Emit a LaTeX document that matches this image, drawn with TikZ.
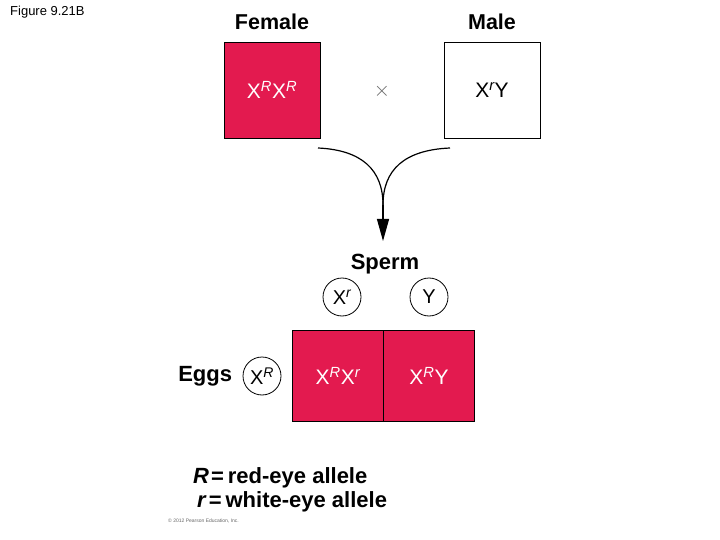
\documentclass[tikz,border=0pt]{standalone}
\usepackage{fontspec}
\setmainfont{Liberation Sans}
\usetikzlibrary{arrows.meta, positioning}
\definecolor{eyered}{HTML}{E31A4F}
\newcommand{\al}[1]{\textsuperscript{\itshape #1}}
\tikzset{
  genebox/.style={
    rectangle, draw=black, line width=0.8pt, fill=#1,
    minimum width=96pt, minimum height=96pt, inner sep=0pt,
    font=\fontsize{21}{21}\selectfont
  },
  allele/.style={
    circle, draw=black, line width=0.8pt, minimum size=38pt,
    inner sep=0pt, font=\fontsize{20}{20}\selectfont
  },
  head/.style={font=\fontsize{21.5}{21.5}\selectfont\bfseries},
  legend/.style={anchor=west, inner sep=0pt,
    font=\fontsize{22}{22}\selectfont\bfseries},
  arrow/.style={line width=1.2pt, #1}
}
\begin{document}
\begin{tikzpicture}[x=1pt, y=-1pt]
  \useasboundingbox (0,0) rectangle (720,540);
  \node[anchor=west, inner sep=0pt, font=\fontsize{13}{13}\selectfont]
    (fig) at (10,12) {Figure 9.21B};
  % parents
  \node[genebox=eyered, text=white] (female) at (272,90) {X\al{R}X\al{R}};
  \node[genebox=white] (male) at (492,90) {X\al{r}Y};
  \node[head] (femlbl) at (272,22) {Female};
  \node[head] (malelbl) at (492,22) {Male};
  \node[font=\fontsize{22}{22}\selectfont, text=black!60] (cross) at (382,91) {$\times$};
  % merging arrow
  \coordinate (lstart) at (318,148);
  \coordinate (rstart) at (450,148);
  \coordinate (merge) at (383,205);
  \coordinate (tip) at (383,241);
  \draw[arrow] (lstart) .. controls (362,150) and (383,170) .. (merge);
  \draw[arrow] (rstart) .. controls (404,150) and (383,170) .. (merge);
  \draw[arrow, -{Triangle[length=22pt, width=12pt]}] (merge) -- (tip);
  % gametes
  \node[head, font=\fontsize{22}{22}\selectfont\bfseries] (sperm) at (385,264) {Sperm};
  \node[allele] (sx) at (342,297) {X\al{r}};
  \node[allele] (sy) at (429,297) {Y};
  \node[allele] (ex) at (262,376) {X\al{R}};
  \node[head, font=\fontsize{22}{22}\selectfont\bfseries, left=7pt of ex] (eggs) {Eggs};
  % offspring
  \node[genebox=eyered, text=white, minimum width=91pt, minimum height=91pt]
    (girl) at (338,376) {X\al{R}X\al{r}};
  \node[genebox=eyered, text=white, minimum width=91pt, minimum height=91pt]
    (boy) at (429,376) {X\al{R}Y};
  % key
  \node[legend] (keyR) at (193,478) {\textit{R}\kern2pt=\kern4pt red-eye allele};
  \node[legend] (keyr) at (197,502) {\textit{r}\kern2pt=\kern4pt white-eye allele};
  \node[anchor=west, inner sep=0pt, font=\fontsize{5}{5}\selectfont, text=black!60]
    (copy) at (168,521) {\textcopyright{} 2012 Pearson Education, Inc.};
\end{tikzpicture}
\end{document}
